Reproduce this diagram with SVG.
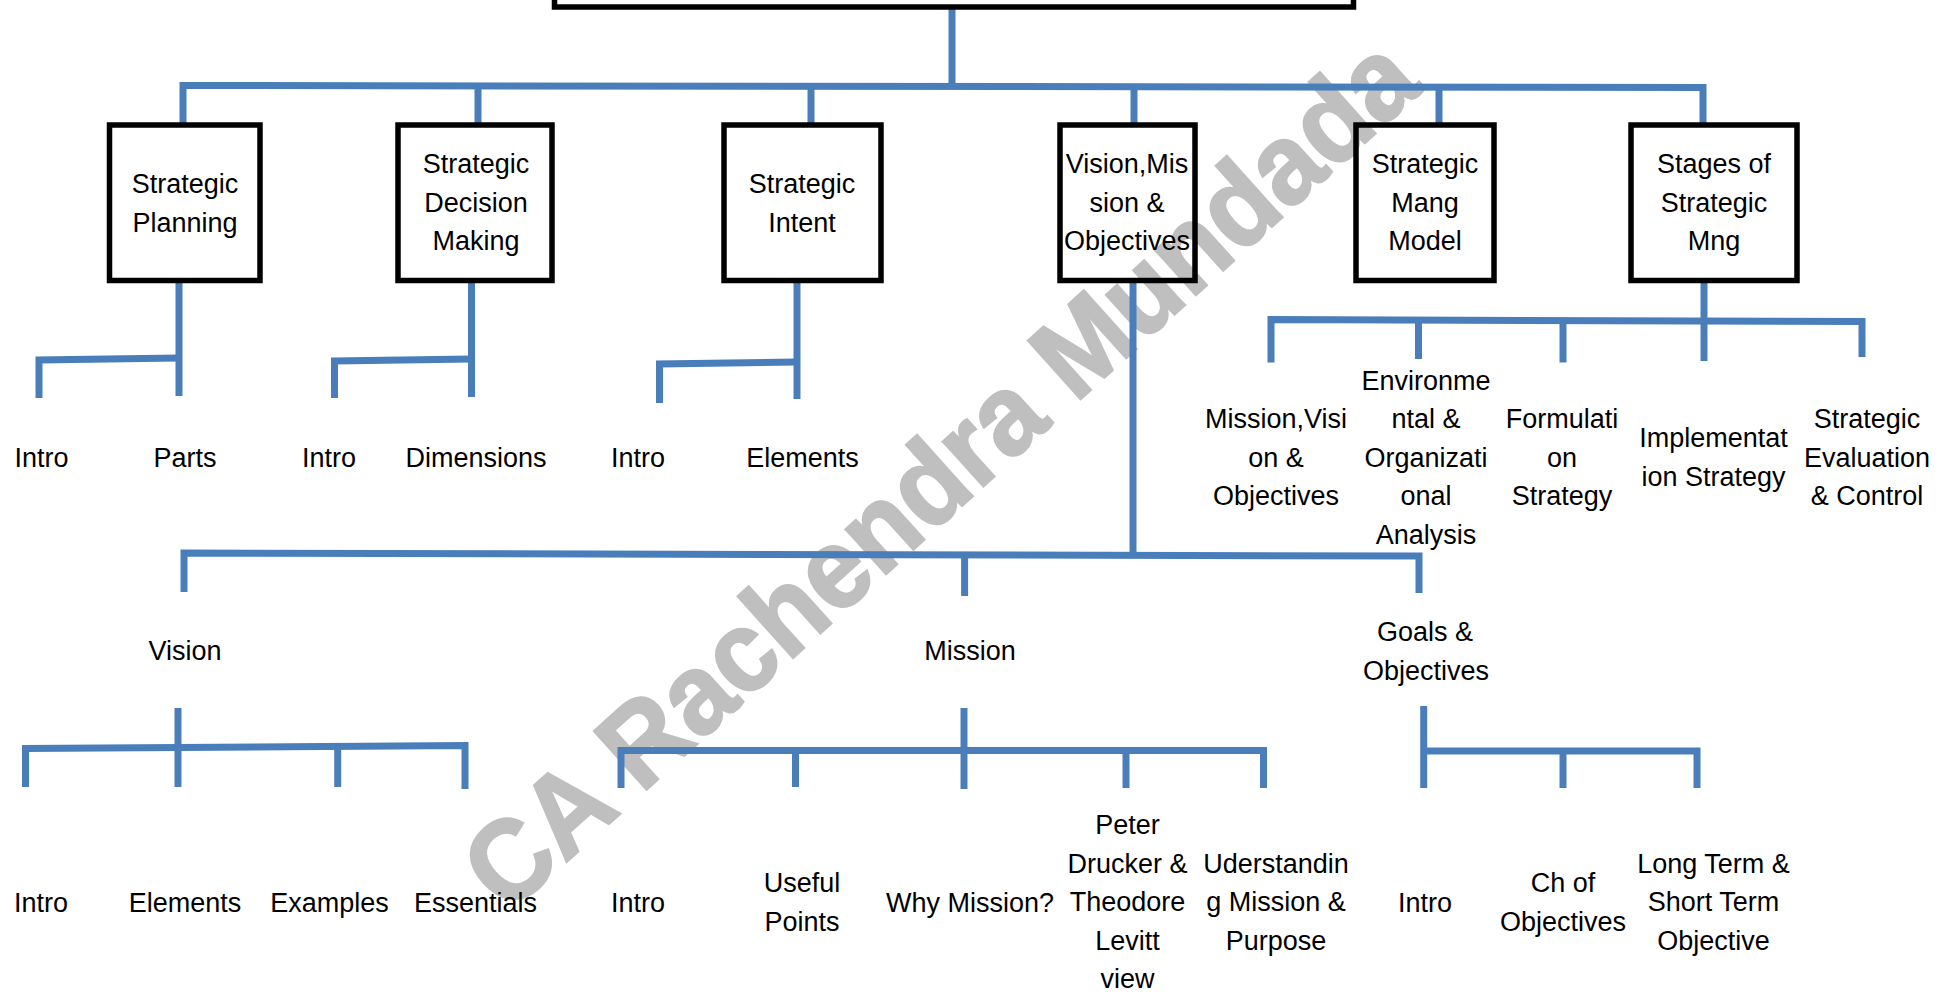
<svg xmlns="http://www.w3.org/2000/svg" width="1950" height="992" viewBox="0 0 1950 992">
<style>
.wm{font-family:"Liberation Sans",Arial,sans-serif;font-weight:bold;font-size:114px;fill:#bfbfbf;stroke:#bfbfbf;stroke-width:2.5}
.box{fill:none;stroke:#000;stroke-width:5.5}
.c{fill:none;stroke:#4a7ebb;stroke-width:7;stroke-linejoin:miter;stroke-linecap:butt}
text.t{font-family:"Liberation Sans",Arial,sans-serif;font-size:27px;fill:#000;text-anchor:middle}
</style>
<rect x="0" y="0" width="1950" height="992" fill="#fff"/>
<text class="wm" text-anchor="middle" textLength="1235" lengthAdjust="spacingAndGlyphs" transform="translate(966,502) rotate(-42)">CA Rachendra Mundada</text>

<g id="connectors">
<path class="c" d="M952,9 V86"/>
<path class="c" d="M183,124 V85.5 L1703,87.5 V124"/>
<path class="c" d="M478,86 V124"/>
<path class="c" d="M811,86 V124"/>
<path class="c" d="M1134,87 V124"/>
<path class="c" d="M1439,87 V124"/>

<path class="c" d="M179,283 V396"/>
<path class="c" d="M39,398 V360 L179,358"/>
<path class="c" d="M471.5,283 V397"/>
<path class="c" d="M334.5,398 V361 L471.5,359"/>
<path class="c" d="M797,283 V399"/>
<path class="c" d="M659.5,403 V364 L797,362"/>

<path class="c" d="M1133,282 V555"/>
<path class="c" d="M184,592 V553 L1419,556 V593"/>
<path class="c" d="M964.6,554 V596"/>

<path class="c" d="M178,708 V787"/>
<path class="c" d="M25.5,787 V748.5 L465,745.5 V789"/>
<path class="c" d="M337.7,747 V787"/>

<path class="c" d="M964,708 V789"/>
<path class="c" d="M621,788 V750.5 L1263.5,750.5 V788"/>
<path class="c" d="M795.5,750 V787"/>
<path class="c" d="M1126,750 V788"/>

<path class="c" d="M1423.7,706 V788"/>
<path class="c" d="M1423.7,751 H1697 V788"/>
<path class="c" d="M1563,751 V788"/>

<path class="c" d="M1704,282 V361"/>
<path class="c" d="M1271,362.5 V319.6 L1862,321.5 V357"/>
<path class="c" d="M1418.5,320.5 V359"/>
<path class="c" d="M1563,321 V362.5"/>
</g>

<g id="node-root"><rect class="box" x="554.5" y="-40" width="799" height="47"/></g>

<g id="node-strategic-planning">
<rect class="box" x="109.5" y="125" width="150.5" height="155.5"/>
<text class="t" x="185" y="193">Strategic</text>
<text class="t" x="185" y="231.5">Planning</text>
</g>
<g id="node-strategic-decision-making">
<rect class="box" x="398" y="125" width="154" height="155.5"/>
<text class="t" x="476" y="173">Strategic</text>
<text class="t" x="476" y="211.5">Decision</text>
<text class="t" x="476" y="250">Making</text>
</g>
<g id="node-strategic-intent">
<rect class="box" x="724" y="125" width="157" height="155.5"/>
<text class="t" x="802" y="193">Strategic</text>
<text class="t" x="802" y="231.5">Intent</text>
</g>
<g id="node-vision-mission-objectives">
<rect class="box" x="1060" y="125" width="135" height="155.5"/>
<text class="t" x="1127" y="173">Vision,Mis</text>
<text class="t" x="1127" y="211.5">sion &amp;</text>
<text class="t" x="1127" y="250">Objectives</text>
</g>
<g id="node-strategic-mang-model">
<rect class="box" x="1356" y="125" width="138" height="155.5"/>
<text class="t" x="1425" y="173">Strategic</text>
<text class="t" x="1425" y="211.5">Mang</text>
<text class="t" x="1425" y="250">Model</text>
</g>
<g id="node-stages">
<rect class="box" x="1631" y="125" width="166" height="155.5"/>
<text class="t" x="1714" y="173">Stages of</text>
<text class="t" x="1714" y="211.5">Strategic</text>
<text class="t" x="1714" y="250">Mng</text>
</g>

<g id="node-sp-intro"><text class="t" x="41.5" y="467">Intro</text></g>
<g id="node-sp-parts"><text class="t" x="185" y="467">Parts</text></g>
<g id="node-sdm-intro"><text class="t" x="329" y="467">Intro</text></g>
<g id="node-sdm-dimensions"><text class="t" x="476" y="467">Dimensions</text></g>
<g id="node-si-intro"><text class="t" x="638" y="467">Intro</text></g>
<g id="node-si-elements"><text class="t" x="802.6" y="467">Elements</text></g>

<g id="node-st-mvo">
<text class="t" x="1276" y="428">Mission,Visi</text>
<text class="t" x="1276" y="466.5">on &amp;</text>
<text class="t" x="1276" y="505">Objectives</text>
</g>
<g id="node-st-env">
<text class="t" x="1426" y="389.5">Environme</text>
<text class="t" x="1426" y="428">ntal &amp;</text>
<text class="t" x="1426" y="466.5">Organizati</text>
<text class="t" x="1426" y="505">onal</text>
<text class="t" x="1426" y="543.5">Analysis</text>
</g>
<g id="node-st-form">
<text class="t" x="1562" y="428">Formulati</text>
<text class="t" x="1562" y="466.5">on</text>
<text class="t" x="1562" y="505">Strategy</text>
</g>
<g id="node-st-impl">
<text class="t" x="1713.5" y="447">Implementat</text>
<text class="t" x="1713.5" y="485.5">ion Strategy</text>
</g>
<g id="node-st-eval">
<text class="t" x="1867" y="428">Strategic</text>
<text class="t" x="1867" y="466.5">Evaluation</text>
<text class="t" x="1867" y="505">&amp; Control</text>
</g>

<g id="node-vision"><text class="t" x="185" y="660">Vision</text></g>
<g id="node-mission"><text class="t" x="970" y="660">Mission</text></g>
<g id="node-goals">
<text class="t" x="1425" y="641">Goals &amp;</text>
<text class="t" x="1426" y="679.5">Objectives</text>
</g>

<g id="node-v-intro"><text class="t" x="41" y="912">Intro</text></g>
<g id="node-v-elements"><text class="t" x="185" y="912">Elements</text></g>
<g id="node-v-examples"><text class="t" x="329.6" y="912">Examples</text></g>
<g id="node-v-essentials"><text class="t" x="475.5" y="912">Essentials</text></g>

<g id="node-m-intro"><text class="t" x="638" y="912">Intro</text></g>
<g id="node-m-useful">
<text class="t" x="802" y="892">Useful</text>
<text class="t" x="802" y="930.5">Points</text>
</g>
<g id="node-m-why"><text class="t" x="970" y="912">Why Mission?</text></g>
<g id="node-m-peter">
<text class="t" x="1127.5" y="834">Peter</text>
<text class="t" x="1127.5" y="872.5">Drucker &amp;</text>
<text class="t" x="1127.5" y="911">Theodore</text>
<text class="t" x="1127.5" y="949.5">Levitt</text>
<text class="t" x="1127.5" y="988">view</text>
</g>
<g id="node-m-understanding">
<text class="t" x="1276" y="872.5">Uderstandin</text>
<text class="t" x="1276" y="911">g Mission &amp;</text>
<text class="t" x="1276" y="949.5">Purpose</text>
</g>

<g id="node-g-intro"><text class="t" x="1425" y="912">Intro</text></g>
<g id="node-g-ch">
<text class="t" x="1563" y="892">Ch of</text>
<text class="t" x="1563" y="930.5">Objectives</text>
</g>
<g id="node-g-long">
<text class="t" x="1713.5" y="872.5">Long Term &amp;</text>
<text class="t" x="1713.5" y="911">Short Term</text>
<text class="t" x="1713.5" y="949.5">Objective</text>
</g>
</svg>
